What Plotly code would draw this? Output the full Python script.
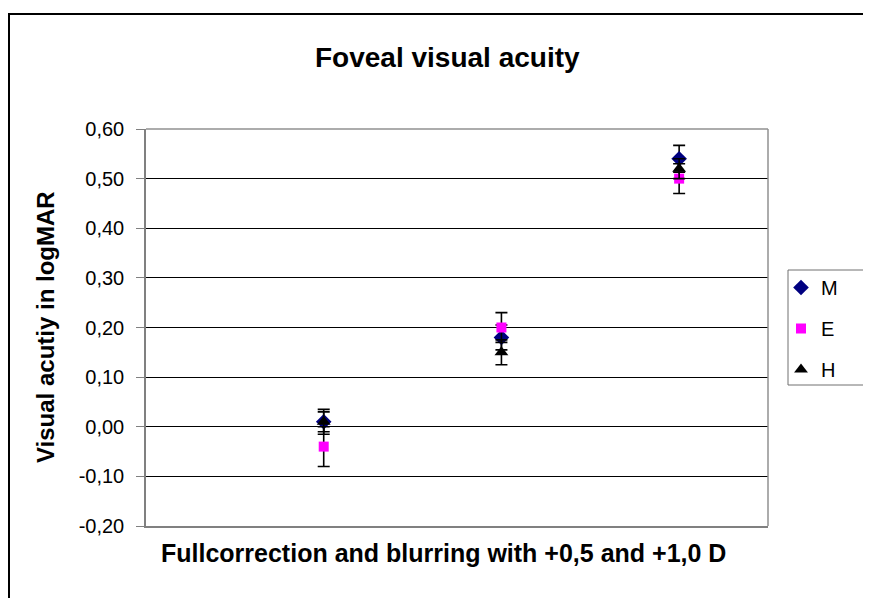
import plotly.graph_objects as go

# Data
conditions = [1, 2, 3]  # Fullcorrection, +0,5 D, +1,0 D
M_vals = [0.01, 0.18, 0.54]
M_err = [0.025, 0.025, 0.027]
E_vals = [-0.04, 0.20, 0.50]
E_err = [0.04, 0.03, 0.03]
H_vals = [0.01, 0.15, 0.52]
H_err = [0.02, 0.025, 0.02]
y_ticks = [-0.2, -0.1, 0.0, 0.1, 0.2, 0.3, 0.4, 0.5, 0.6]
y_tick_labels = ["-0,20", "-0,10", "0,00", "0,10", "0,20", "0,30", "0,40", "0,50", "0,60"]

FONT = "Liberation Sans, Arial, sans-serif"
W, H = 871, 598
OFF = 8  # page body margin
# plot area in screen pixels
SL, SR, ST, SB = 146, 768, 129, 526
L, T = SL - OFF, ST - OFF
R, B = W - (SR - OFF), H - (SB - OFF)
PW, PH = SR - SL, SB - ST

def px(x):
    return (x - SL) / PW

def py(y):
    return (SB - y) / PH

fig = go.Figure()

series = [
    ("M", M_vals, M_err, "diamond", "#000080", 12),
    ("E", E_vals, E_err, "square", "#FF00FF", 10),
    ("H", H_vals, H_err, "triangle-up", "#000000", 12),
]
for name, vals, err, sym, col, sz in series:
    fig.add_trace(go.Scatter(
        x=conditions, y=vals, mode="markers", name=name,
        legendgroup=name,
        marker=dict(symbol=sym, color=col, size=sz, line=dict(width=0)),
        error_y=dict(type="data", array=err, visible=True, color="#000000",
                     thickness=1.6, width=6),
    ))

fig.update_layout(
    width=W, height=H,
    margin=dict(l=L, r=R, t=T, b=B),
    paper_bgcolor="white", plot_bgcolor="white",
    font=dict(family=FONT, color="black"),
    showlegend=True,
    legend=dict(
        x=px(781), y=py(268), xanchor="left", yanchor="top",
        borderwidth=0,
        font=dict(size=20, family=FONT),
        tracegroupgap=12,
        bgcolor="rgba(0,0,0,0)",
    ),
    xaxis=dict(range=[0, 3.5], showgrid=False, zeroline=False, showticklabels=False,
               ticks="", showline=True, linecolor="#808080", linewidth=1.5),
    yaxis=dict(range=[-0.2, 0.6], tickvals=y_ticks, ticktext=y_tick_labels,
               showgrid=True, gridcolor="#000000", gridwidth=1, zeroline=False,
               ticks="outside", ticklen=8, tickcolor="#808080", tickwidth=1.2,
               ticklabelstandoff=8,
               showline=True, linecolor="#808080", linewidth=1.5,
               tickfont=dict(size=20, family=FONT)),
    shapes=[
        # plot area frame (top/right)
        dict(type="line", xref="paper", yref="paper", x0=0, x1=1, y0=1, y1=1,
             line=dict(color="#909090", width=1.5)),
        dict(type="line", xref="paper", yref="paper", x0=1, x1=1, y0=0, y1=1,
             line=dict(color="#909090", width=1.5)),
        # outer chart border
        dict(type="rect", xref="paper", yref="paper",
             x0=px(9), x1=px(W + 20), y0=py(H + 20), y1=py(14),
             line=dict(color="#000000", width=2), layer="below"),
        # legend box
        dict(type="rect", xref="paper", yref="paper",
             x0=px(788), x1=px(W + 20), y0=py(385), y1=py(270),
             line=dict(color="#707070", width=1), layer="below"),
    ],
    annotations=[
        dict(text="<b>Foveal visual acuity</b>", xref="paper", yref="paper",
             x=px(447), y=py(57), showarrow=False, xanchor="center", yanchor="middle",
             font=dict(size=28, family=FONT)),
        dict(text="<b>Visual acutiy in logMAR</b>", xref="paper", yref="paper",
             x=px(45), y=py(327), showarrow=False, textangle=-90,
             xanchor="center", yanchor="middle", font=dict(size=24, family=FONT)),
        dict(text="<b>Fullcorrection and blurring with +0,5 and +1,0 D</b>",
             xref="paper", yref="paper", x=px(443), y=py(553), showarrow=False,
             xanchor="center", yanchor="middle", font=dict(size=25, family=FONT)),
    ],
)

fig.write_html("out.html")
